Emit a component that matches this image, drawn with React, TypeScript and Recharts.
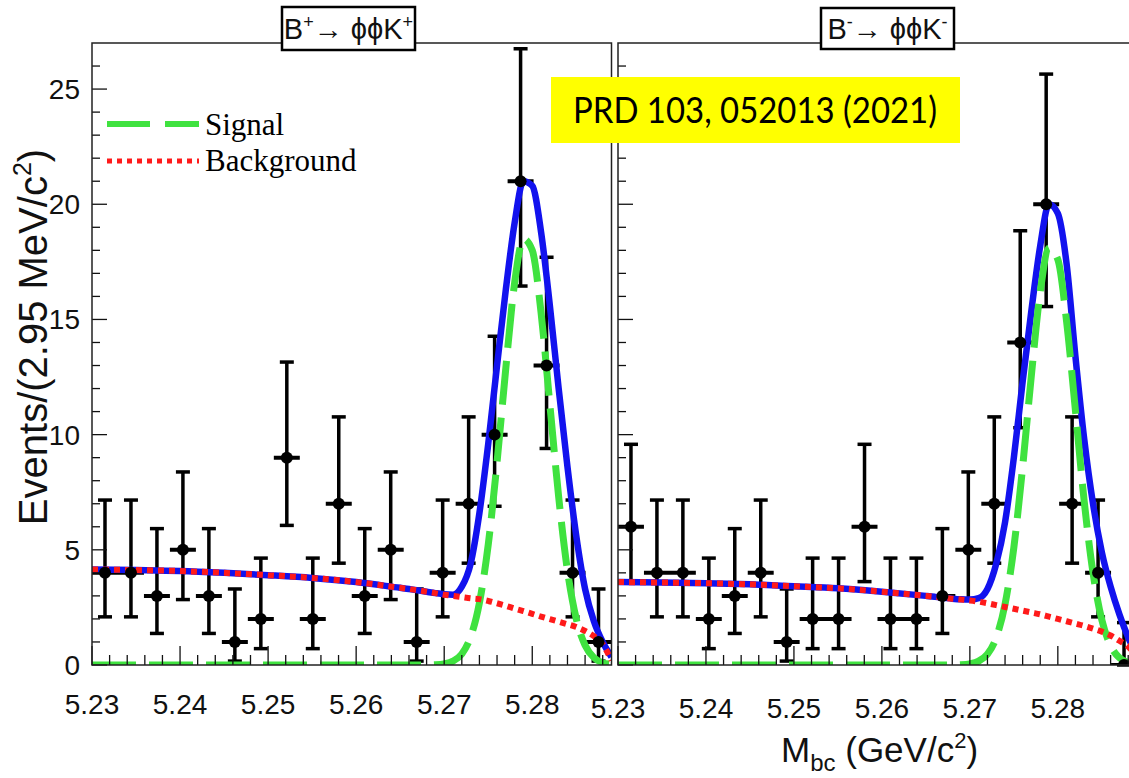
import React from "react";
import { ComposedChart, Line, Scatter, XAxis, YAxis, ErrorBar } from "recharts";

const SANS = "'Liberation Sans', Arial, Helvetica, sans-serif";
const SERIF = "'Liberation Serif', 'Times New Roman', serif";

// bin centres, 2.95 MeV bins from 5.23
const binCenters = [
  5.231475, 5.234425, 5.237375, 5.240325, 5.243275, 5.246225, 5.249175, 5.252125, 5.255075, 5.258025,
  5.260975, 5.263925, 5.266875, 5.269825, 5.272775, 5.275725, 5.278675, 5.281625, 5.284575, 5.287525,
];
const HALF_BIN = 0.001475;

const leftCounts = [4, 4, 3, 5, 3, 1, 2, 9, 2, 7, 3, 5, 1, 4, 7, 10, 21, 13, 4, 1];
const leftErrLow = [1.91, 1.91, 1.63, 2.16, 1.63, 0.83, 1.29, 2.94, 1.29, 2.58, 1.63, 2.16, 0.83, 1.91, 2.58, 3.11, 4.55, 3.6, 1.91, 0.83];
const leftErrHigh = [3.16, 3.16, 2.92, 3.38, 2.92, 2.3, 2.64, 4.15, 2.64, 3.77, 2.92, 3.38, 2.3, 3.16, 3.77, 4.27, 5.75, 4.7, 3.16, 2.3];

const rightCounts = [6, 4, 4, 2, 3, 4, 1, 2, 2, 6, 2, 2, 3, 5, 7, 14, 20, 7, 4, 0];
const rightErrLow = [2.38, 1.91, 1.91, 1.29, 1.63, 1.91, 0.83, 1.29, 1.29, 2.38, 1.29, 1.29, 1.63, 2.16, 2.58, 3.7, 4.44, 2.58, 1.91, 0];
const rightErrHigh = [3.58, 3.16, 3.16, 2.64, 2.92, 3.16, 2.3, 2.64, 2.64, 3.58, 2.64, 2.64, 2.92, 3.38, 3.77, 4.85, 5.65, 3.77, 3.16, 1.84];

// fit curves
const curveX = [
  5.23, 5.235, 5.24, 5.245, 5.25, 5.255, 5.26, 5.265, 5.266, 5.267, 5.268, 5.269, 5.27, 5.271, 5.272, 5.273,
  5.274, 5.275, 5.276, 5.277, 5.278, 5.279, 5.28, 5.281, 5.282, 5.283, 5.284, 5.285, 5.286, 5.287, 5.288, 5.289,
];
const leftTotal = [
  4.15, 4.12, 4.08, 4.0, 3.9, 3.78, 3.6, 3.35, 3.3, 3.24, 3.18, 3.12, 3.07, 3.05, 3.4, 4.4,
  6.6, 9.6, 13.0, 16.3, 19.2, 21.0, 20.8, 18.8, 15.6, 12.0, 8.6, 5.6, 3.3, 1.9, 1.0, 0.35,
];
const leftSignal = [
  0, 0, 0, 0, 0, 0, 0, 0, 0, 0, 0, 0.01, 0.05, 0.17, 0.48, 1.22,
  2.7, 5.22, 8.8, 12.9, 16.6, 18.5, 18.0, 15.3, 11.3, 7.3, 4.09, 2.0, 0.86, 0.32, 0.1, 0.03,
];
const leftBkg = [
  4.15, 4.12, 4.08, 4.0, 3.9, 3.78, 3.6, 3.35, 3.3, 3.24, 3.18, 3.12, 3.05, 3.0, 2.95, 2.9,
  2.86, 2.78, 2.68, 2.57, 2.45, 2.34, 2.22, 2.1, 1.99, 1.88, 1.77, 1.65, 1.48, 1.25, 0.9, 0.2,
];
const rightTotal = [
  3.6, 3.58, 3.55, 3.5, 3.42, 3.33, 3.18, 3.0, 2.96, 2.92, 2.88, 2.85, 2.84, 2.9, 3.3, 4.4,
  6.2, 9.0, 12.3, 15.4, 18.2, 20.0, 19.6, 17.4, 13.4, 9.8, 7.0, 4.9, 3.4, 2.2, 1.2, 0.4,
];
const rightSignal = [
  0, 0, 0, 0, 0, 0, 0, 0, 0, 0, 0, 0.01, 0.05, 0.17, 0.47, 1.19,
  2.64, 5.1, 8.6, 12.6, 16.2, 18.1, 17.6, 14.9, 11.05, 7.1, 4.0, 1.96, 0.84, 0.31, 0.1, 0.03,
];
const rightBkg = [
  3.6, 3.58, 3.55, 3.5, 3.42, 3.33, 3.18, 3.0, 2.96, 2.92, 2.88, 2.84, 2.8, 2.75, 2.68, 2.6,
  2.52, 2.44, 2.36, 2.28, 2.2, 2.1, 2.0, 1.9, 1.8, 1.7, 1.58, 1.45, 1.28, 1.05, 0.8, 0.3,
];

const xTicks = [
  5.23, 5.232, 5.234, 5.236, 5.238, 5.24, 5.242, 5.244, 5.246, 5.248, 5.25, 5.252, 5.254, 5.256, 5.258,
  5.26, 5.262, 5.264, 5.266, 5.268, 5.27, 5.272, 5.274, 5.276, 5.278, 5.28, 5.282, 5.284, 5.286, 5.288,
];
const xMajorTicks = [5.23, 5.24, 5.25, 5.26, 5.27, 5.28];
const yTicks = [0, 1, 2, 3, 4, 5, 6, 7, 8, 9, 10, 11, 12, 13, 14, 15, 16, 17, 18, 19, 20, 21, 22, 23, 24, 25, 26];
const yMajorTicks = [0, 5, 10, 15, 20, 25];

const makePoints = (counts: number[], lo: number[], hi: number[]) =>
  binCenters.map((x, i) => ({ x, y: counts[i], yerr: [lo[i], hi[i]] }));

// bin-width bars: one segment per bin, broken by null entries
const makeBinBars = (counts: number[]) =>
  binCenters.flatMap((c, i) => [
    { x: c - HALF_BIN, h: counts[i] },
    { x: c + HALF_BIN, h: counts[i] },
    { x: c + HALF_BIN, h: null },
  ]);

const makeCurve = (total: number[], sig: number[], bkg: number[]) =>
  curveX.map((x, i) => ({ x, total: total[i], sig: sig[i], bkg: bkg[i] }));

const makeXTick = (labelDy: number) => (props: any) => {
  const { x, y, payload } = props;
  const v = payload.value;
  const major = xMajorTicks.some((m) => Math.abs(m - v) < 1e-7);
  return (
    <g>
      <line x1={x} x2={x} y1={y} y2={y - (major ? 19 : 10)} stroke="#111" strokeWidth={1.3} />
      {major && (
        <text x={x} y={y + labelDy} textAnchor="middle" fontSize={28} fontFamily={SANS} fill="#111">
          {v.toFixed(2)}
        </text>
      )}
    </g>
  );
};

const makeYTick = (showLabel: boolean) => (props: any) => {
  const { x, y, payload } = props;
  const v = payload.value;
  const major = yMajorTicks.includes(v);
  return (
    <g>
      <line x1={x} x2={x + (major ? 15 : 8)} y1={y} y2={y} stroke="#111" strokeWidth={1.3} />
      {showLabel && major && (
        <text x={x - 12} y={y + 10} textAnchor="end" fontSize={28} fontFamily={SANS} fill="#111">
          {v}
        </text>
      )}
    </g>
  );
};

const Dot = (props: any) => <circle cx={props.cx} cy={props.cy} r={6} fill="#000" />;

interface PanelProps {
  left: number;
  width: number;
  margin: { top: number; right: number; bottom: number; left: number };
  points: any[];
  bars: any[];
  curve: any[];
  showYLabels: boolean;
  labelDy: number;
}

function Panel({ left, width, margin, points, bars, curve, showYLabels, labelDy }: PanelProps) {
  return (
    <div style={{ position: "absolute", left, top: 0, width, height: 778 }}>
      <ComposedChart width={width} height={778} margin={margin}>
        <XAxis
          type="number"
          dataKey="x"
          domain={[5.23, 5.289]}
          allowDataOverflow
          ticks={xTicks}
          interval={0}
          tick={makeXTick(labelDy)}
          tickLine={false}
          axisLine={false}
          tickSize={0}
          tickMargin={0}
          height={1}
        />
        <YAxis
          type="number"
          dataKey="y"
          domain={[0, 27]}
          allowDataOverflow
          ticks={yTicks}
          interval={0}
          tick={makeYTick(showYLabels)}
          tickLine={false}
          axisLine={false}
          tickSize={0}
          tickMargin={0}
          width={1}
        />
        <Scatter data={points} shape={Dot} isAnimationActive={false}>
          <ErrorBar dataKey="yerr" direction="y" width={7} strokeWidth={3.5} stroke="#000" isAnimationActive={false} />
        </Scatter>
        <Line
          data={bars}
          dataKey="h"
          type="linear"
          dot={false}
          connectNulls={false}
          stroke="#000"
          strokeWidth={4}
          strokeLinecap="butt"
          isAnimationActive={false}
        />
        <Line data={curve} dataKey="total" type="monotone" dot={false} stroke="#1212ee" strokeWidth={6.5} isAnimationActive={false} />
        <Line data={curve} dataKey="sig" type="monotone" dot={false} stroke="#3fe23f" strokeWidth={7} strokeDasharray="44 13" isAnimationActive={false} />
        <Line data={curve} dataKey="bkg" type="monotone" dot={false} stroke="#ff1a1a" strokeWidth={6} strokeDasharray="6 5" isAnimationActive={false} />
      </ComposedChart>
    </div>
  );
}

export default function App() {
  const leftPoints = makePoints(leftCounts, leftErrLow, leftErrHigh);
  const rightPoints = makePoints(rightCounts, rightErrLow, rightErrHigh);
  const leftBars = makeBinBars(leftCounts);
  const rightBars = makeBinBars(rightCounts);
  const leftCurve = makeCurve(leftTotal, leftSignal, leftBkg);
  const rightCurve = makeCurve(rightTotal, rightSignal, rightBkg);

  return (
    <div style={{ position: "absolute", left: 0, top: 0, width: 1129, height: 778, overflow: "hidden", background: "#fff" }}>
      <Panel
        left={0}
        width={620}
        margin={{ top: 43, right: 8.5, bottom: 112, left: 91 }}
        points={leftPoints}
        bars={leftBars}
        curve={leftCurve}
        showYLabels
        labelDy={49}
      />
      <Panel
        left={560}
        width={580}
        margin={{ top: 43, right: 3, bottom: 112, left: 57 }}
        points={rightPoints}
        bars={rightBars}
        curve={rightCurve}
        showYLabels={false}
        labelDy={53}
      />
      <svg width={1129} height={778} style={{ position: "absolute", left: 0, top: 0, pointerEvents: "none" }}>
        {/* frames */}
        <rect x={92} y={43} width={519.5} height={622} fill="none" stroke="#222" strokeWidth={1.5} />
        <rect x={618} y={43} width={519} height={622} fill="none" stroke="#222" strokeWidth={1.5} />

        {/* panel titles */}
        <rect x={282} y={7} width={133} height={43} fill="#fff" stroke="#000" strokeWidth={2.5} />
        <text x={348.5} y={39} textAnchor="middle" fontSize={29} fontFamily={SANS} fill="#111">
          B<tspan fontSize={18} dy={-11}>+</tspan>
          <tspan dy={11}>{"\u2192 \u03d5\u03d5K"}</tspan>
          <tspan fontSize={18} dy={-11}>+</tspan>
        </text>
        <rect x={821} y={8} width={133} height={41} fill="#fff" stroke="#000" strokeWidth={2.5} />
        <text x={887.5} y={39} textAnchor="middle" fontSize={29} fontFamily={SANS} fill="#111">
          B<tspan fontSize={18} dy={-11}>-</tspan>
          <tspan dy={11}>{"\u2192 \u03d5\u03d5K"}</tspan>
          <tspan fontSize={18} dy={-11}>-</tspan>
        </text>

        {/* reference label */}
        <rect x={551} y={77} width={409} height={66} fill="#ffff00" />
        <text x={573} y={123} fontSize={36} fontFamily="Lato, 'Open Sans', sans-serif" fill="#000" textLength={364} lengthAdjust="spacingAndGlyphs">
          PRD 103, 052013 (2021)
        </text>

        {/* legend */}
        <line x1={107} x2={199} y1={124} y2={124} stroke="#3fe23f" strokeWidth={6} strokeDasharray="43 15" />
        <text x={205} y={135} fontSize={31} fontFamily={SERIF} fill="#000">Signal</text>
        <line x1={107} x2={199} y1={161} y2={161} stroke="#ff1a1a" strokeWidth={5} strokeDasharray="5 5" />
        <text x={205} y={171} fontSize={31} fontFamily={SERIF} fill="#000">Background</text>

        {/* axis titles */}
        <text transform="translate(47,337) rotate(-90)" textAnchor="middle" fontSize={40} fontFamily={SANS} fill="#111">
          Events/(2.95 MeV/c<tspan fontSize={25} dy={-16}>2</tspan>
          <tspan dy={16}>)</tspan>
        </text>
        <text x={781} y={762} fontSize={35} fontFamily={SANS} fill="#111">
          M<tspan fontSize={24} dy={9}>bc</tspan>
          <tspan dy={-9}> (GeV/c</tspan>
          <tspan fontSize={22} dy={-14}>2</tspan>
          <tspan dy={14}>)</tspan>
        </text>
      </svg>
    </div>
  );
}
